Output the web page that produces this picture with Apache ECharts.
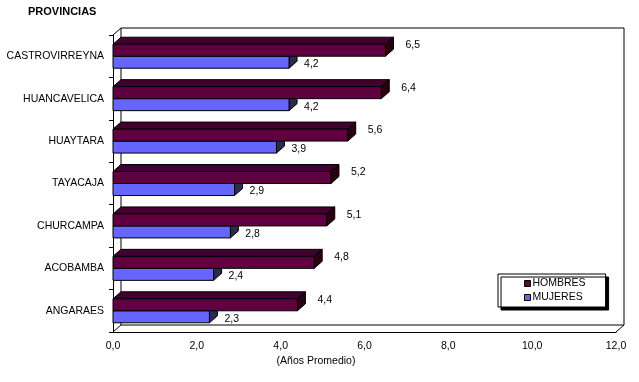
<!DOCTYPE html>
<html>
<head>
<meta charset="utf-8">
<script src="https://cdn.jsdelivr.net/npm/echarts@6/dist/echarts.min.js"></script>
<style>html,body{margin:0;padding:0;background:#fff}#c{width:639px;height:382px}</style>
</head>
<body>
<div id="c"></div>
<script>
const provincias = ['CASTROVIRREYNA','HUANCAVELICA','HUAYTARA','TAYACAJA','CHURCAMPA','ACOBAMBA','ANGARAES'];
const hombres = [6.5, 6.4, 5.6, 5.2, 5.1, 4.8, 4.4];
const mujeres = [4.2, 4.2, 3.9, 2.9, 2.8, 2.4, 2.3];
const xTickLabels = ['0,0','2,0','4,0','6,0','8,0','10,0','12,0'];
const seriesNames = ['HOMBRES','MUJERES'];

const FONT = "'Liberation Sans', Arial, sans-serif";
const FS = 10.5;
const G = {left: 113, top: 35, width: 503, height: 297};
const DX = 8, DY = -7;
const colors = {
  HOMBRES: {front: '#600040', top: '#420030', side: '#2a0010'},
  MUJERES: {front: '#6666ff', top: '#4040a0', side: '#2b2b50'}
};
const fmt = v => v.toFixed(1).replace('.', ',');

function makeRender(name) {
  const col = colors[name];
  const isH = name === 'HOMBRES';
  return function (params, api) {
    const v = api.value(0), ci = api.value(1);
    const c = api.coord([0, ci]);
    const e = api.coord([v, ci]);
    const band = api.size([0, 1])[1];
    const h = Math.round(band * 0.283);
    const yTop = isH ? c[1] - h : c[1];
    const x0 = c[0], x1 = e[0];
    const line = {stroke: '#000', lineWidth: 1};
    const children = [
      {type: 'polygon', shape: {points: [[x0, yTop], [x0 + DX, yTop + DY], [x1 + DX, yTop + DY], [x1, yTop]]},
       style: Object.assign({fill: col.top}, line)},
      {type: 'polygon', shape: {points: [[x1, yTop], [x1 + DX, yTop + DY], [x1 + DX, yTop + h + DY], [x1, yTop + h]]},
       style: Object.assign({fill: col.side}, line)},
      {type: 'rect', shape: {x: x0, y: yTop, width: x1 - x0, height: h},
       style: Object.assign({fill: col.front}, line)},
      {type: 'text', style: {text: fmt(v), x: x1 + (isH ? 20 : 15), y: c[1] + (isH ? -11 : 8),
        textVerticalAlign: 'middle', verticalAlign: 'middle', fill: '#000', font: FS + 'px ' + FONT}}
    ];
    return {type: 'group', children: children};
  };
}

const chart = echarts.init(document.getElementById('c'), null, {renderer: 'canvas'});

const wallLine = {stroke: '#000', lineWidth: 1};
const L = G.left, T = G.top, R = G.left + G.width, B = G.top + G.height;
const graphics = [
  {type: 'polyline', shape: {points: [[L + DX, B + DY], [L + DX, T + DY], [R + DX, T + DY], [R + DX, B + DY], [L + DX, B + DY]]}, style: wallLine, z: 0, silent: true},
  {type: 'line', shape: {x1: L, y1: T, x2: L + DX, y2: T + DY}, style: wallLine, z: 0},
  {type: 'line', shape: {x1: L, y1: B, x2: L + DX, y2: B + DY}, style: wallLine, z: 0},
  {type: 'line', shape: {x1: R, y1: B, x2: R + DX, y2: B + DY}, style: wallLine, z: 0},
  {type: 'text', left: 28, top: 6, style: {text: 'PROVINCIAS', fill: '#000', font: 'bold 11px ' + FONT}},
  {type: 'text', style: {text: '(Años Promedio)', x: 316, y: 361, textAlign: 'center', align: 'center', textVerticalAlign: 'middle', verticalAlign: 'middle', fill: '#000', font: FS + 'px ' + FONT}}
];

chart.setOption({
  backgroundColor: '#fff',
  animation: false,
  textStyle: {fontFamily: FONT},
  grid: {left: G.left, top: G.top, width: G.width, height: G.height, containLabel: false},
  legend: {
    data: seriesNames,
    orient: 'vertical',
    left: 498, top: 274,
    padding: [4, 20, 4, 26],
    itemWidth: 6, itemHeight: 6, itemGap: 3,
    icon: 'rect',
    backgroundColor: '#fff',
    borderColor: '#000', borderWidth: 1,
    shadowColor: '#000', shadowBlur: 0, shadowOffsetX: 3, shadowOffsetY: 3,
    itemStyle: {borderColor: '#000', borderWidth: 1},
    textStyle: {fontSize: FS, color: '#000', fontFamily: FONT, padding: [0, 0, 0, -3]},
    selectedMode: false
  },
  xAxis: {
    type: 'value', min: 0, max: 12, interval: 2,
    axisLine: {show: true, lineStyle: {color: '#000', width: 1}},
    axisTick: {show: false},
    splitLine: {show: false},
    axisLabel: {color: '#000', fontSize: FS, margin: 9, formatter: v => xTickLabels[Math.round(v / 2)]}
  },
  yAxis: {
    type: 'category', data: provincias, inverse: true,
    axisLine: {show: true, lineStyle: {color: '#000', width: 1}},
    axisTick: {show: true, length: 4, lineStyle: {color: '#000'}},
    splitLine: {show: false},
    axisLabel: {color: '#000', fontSize: FS, margin: 9}
  },
  graphic: graphics,
  series: [
    {name: 'MUJERES', type: 'custom', renderItem: makeRender('MUJERES'), itemStyle: {color: colors.MUJERES.front},
     encode: {x: 0, y: 1}, data: mujeres.map((v, i) => [v, i]), z: 2},
    {name: 'HOMBRES', type: 'custom', renderItem: makeRender('HOMBRES'), itemStyle: {color: colors.HOMBRES.front},
     encode: {x: 0, y: 1}, data: hombres.map((v, i) => [v, i]), z: 3}
  ]
});
</script>
</body>
</html>
